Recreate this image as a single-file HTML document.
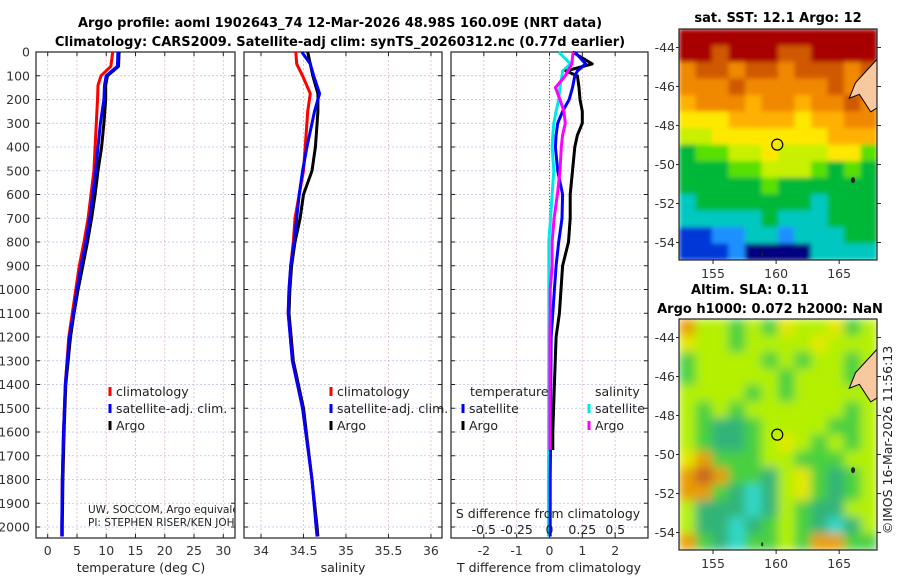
<!DOCTYPE html>
<html><head><meta charset="utf-8"><style>
body{margin:0;background:#fff;}
svg{display:block;font-family:"DejaVu Sans","Liberation Sans",sans-serif;}
</style></head><body>
<svg id="fig" width="900" height="580" viewBox="0 0 900 580" xmlns="http://www.w3.org/2000/svg">
<defs>
<filter id="blurS" x="0" y="0" width="1" height="1"><feGaussianBlur stdDeviation="2.5" edgeMode="duplicate"/></filter>
<filter id="blurL" x="0" y="0" width="1" height="1"><feGaussianBlur stdDeviation="5" edgeMode="duplicate"/></filter>
<clipPath id="mapclip1"><rect x="679" y="29" width="198" height="231"/></clipPath>
<clipPath id="mapclip2"><rect x="679" y="319" width="198" height="231"/></clipPath>
<clipPath id="c1"><rect x="36" y="52" width="199" height="486"/></clipPath>
</defs>
<text x="340" y="27" text-anchor="middle" font-size="13" font-weight="bold">Argo profile: aoml 1902643_74 12-Mar-2026 48.98S 160.09E (NRT data)</text>
<text x="340" y="46" text-anchor="middle" font-size="13" font-weight="bold">Climatology: CARS2009. Satellite-adj clim: synTS_20260312.nc (0.77d earlier)</text>
<g id="plots"></g>
<text x="778" y="22" text-anchor="middle" font-size="13" font-weight="bold">sat. SST: 12.1 Argo: 12</text>
<text x="750" y="294" text-anchor="middle" font-size="13" font-weight="bold">Altim. SLA: 0.11</text>
<text x="770" y="313" text-anchor="middle" font-size="13" font-weight="bold">Argo h1000: 0.072 h2000: NaN</text>
<text transform="translate(892,440) rotate(-90)" text-anchor="middle" font-size="12.5" fill="#222">©IMOS 16-Mar-2026 11:56:13</text>
</svg>
<script>
// ---------- profile data ----------
const tDepth    = [0,60,100,140,200,300,400,500,600,700,800,900,1000,1100,1200,1400,1600,1800,2000,2040];
const tArgo     = [12.2,12.1,10.2,9.9,9.9,9.6,9.2,8.6,8.1,7.5,6.8,6.0,5.2,4.5,3.9,3.1,2.8,2.6,2.5,2.5];
const tClim     = [11.1,10.8,9.1,8.6,8.5,8.3,8.1,7.9,7.4,6.9,6.2,5.4,4.8,4.2,3.6,3.0,2.7,2.5,2.4,2.4];
const tSat      = [12.0,11.9,10.0,9.7,9.6,9.0,8.6,8.2,7.7,7.2,6.5,5.7,5.0,4.4,3.7,3.0,2.7,2.5,2.4,2.4];
const sDepth    = [0,50,100,175,250,300,400,500,600,700,800,900,1000,1100,1300,1500,1800,2000,2040];
const sArgo     = [34.55,34.58,34.61,34.67,34.67,34.66,34.64,34.6,34.5,34.46,34.4,34.36,34.34,34.33,34.38,34.5,34.6,34.66,34.67];
const sClim     = [34.41,34.42,34.49,34.58,34.55,34.54,34.52,34.5,34.45,34.4,34.38,34.35,34.33,34.32,34.37,34.49,34.6,34.65,34.66];
const sSat      = [34.48,34.58,34.62,34.69,34.63,34.6,34.54,34.49,34.45,34.42,34.39,34.35,34.33,34.32,34.37,34.49,34.6,34.65,34.66];
const dDepth    = [0,50,80,100,150,200,250,300,350,400,500,600,700,800,900,1000,1100,1200,1400,1600,1676,1800,2000,2040];
const dTArgo    = [0.7,1.3,0.5,0.85,0.9,0.93,1.0,1.0,0.85,0.77,0.7,0.63,0.63,0.58,0.4,0.35,0.3,0.2,0.15,0.1,0.1,null,null,null];
const dTSat     = [0.77,1.1,0.85,0.77,0.7,0.6,0.4,0.25,0.2,0.18,0.25,0.4,0.38,0.28,0.2,0.15,0.1,0.05,0.04,0.03,0.03,0.02,0.02,0.02];
const dSSat     = [0.07,0.16,0.1,0.095,0.08,0.07,0.05,0.033,0.025,0.02,0.033,0.02,0.008,-0.005,-0.005,-0.005,-0.005,-0.005,-0.006,-0.007,-0.007,-0.008,-0.008,-0.008];
const dSArgo    = [0.18,0.17,0.14,0.12,0.045,0.08,0.11,0.12,0.1,0.09,0.08,0.06,0.035,0.02,0.02,0.005,0.005,0.003,0.003,0.003,0.003,null,null,null];
const depthTicks = [0,100,200,300,400,500,600,700,800,900,1000,1100,1200,1300,1400,1500,1600,1700,1800,1900,2000];
const p1Ticks = [0,5,10,15,20,25,30];
const p2Ticks = [34,34.5,35,35.5,36];
const p3Ticks = [-2,-1,0,1,2];
const p3STicks = [-0.5,-0.25,0,0.25,0.5];
// ---------- map data (colour-class grids) ----------
const sstRows = ["BBBBBBBBBBBB","BBABBBAABBBB","9AA9AA9AAA9A","999A99999A9A","8999899899A9","777888878899","667777777888","455667666775","444556665454","444445444444","344444443444","333334333444","112233233344","111200003333"];
const slaRows = ["oggGgGyggyGg","yggGggggyggg","GggggGgGggGg","GgggggGgggGg","ggggGgGggggg","gGgGggggggGg","gGDDGggggGGg","gGDDGgygGgGg","yoGGGggGGGgg","oroGGDgyGDGg","ooGDCDgyGDGg","gDDDCDgGDDgg","gDDCDGgGDCDg","oGDCGGgGooGG"];
const lonTicks = [155,160,165];
const latTicks = [-44,-46,-48,-50,-52,-54];
const floatLon = 160.09, floatLat = -48.98;

const NS="http://www.w3.org/2000/svg";
const root=document.getElementById('plots');
function mk(tag,attrs,parent){const e=document.createElementNS(NS,tag);for(const k in attrs)e.setAttribute(k,attrs[k]);(parent||root).appendChild(e);return e;}
const yTop=52,yBot=538,pxPerM=0.2375;
const yD=d=>yTop+d*pxPerM;
const panels=[{x0:36,x1:235,min:-2,max:32},{x0:244,x1:442,min:33.8,max:36.13},{x0:451,x1:648,min:-3,max:3}];
function xs(p){return v=>p.x0+(v-p.min)/(p.max-p.min)*(p.x1-p.x0);}
function line(p,vals,depths,color,name,scale){
  const X=xs(p);let d='';let pen=false;
  vals.forEach((v,i)=>{if(v===null){pen=false;return;}const vv=v*(scale||1);d+=(pen?'L':'M')+X(vv).toFixed(1)+' '+yD(depths[i]).toFixed(1);pen=true;});
  const el=mk('path',{d:d,fill:'none',stroke:color,'stroke-width':3,'stroke-linejoin':'round'});
  
  
}
panels.forEach((p,pi)=>{
  const g=mk('g',{});
  
  
  const X=xs(p);
  depthTicks.forEach(t=>{const y=yD(t);mk('line',{x1:p.x0,x2:p.x1,y1:y,y2:y,stroke:'#b8c0e8','stroke-width':0.8,'stroke-dasharray':'2 2'},g);
    mk('line',{x1:p.x0,x2:p.x0+4,y1:y,y2:y,stroke:'#222'},g);mk('line',{x1:p.x1,x2:p.x1-4,y1:y,y2:y,stroke:'#222'},g);
    if(pi===0){const tl=mk('text',{x:30,y:y+4.5,'text-anchor':'end','font-size':12.5,fill:'#333'},g);tl.textContent=t;
      
      }});
  const ticks=[p1Ticks,p2Ticks,p3Ticks][pi];
  ticks.forEach(t=>{const x=X(t);mk('line',{x1:x,x2:x,y1:yTop,y2:yBot,stroke:'#e0b8c8','stroke-width':0.8,'stroke-dasharray':'2 2'},g);
    mk('line',{x1:x,x2:x,y1:yBot,y2:yBot-4,stroke:'#222'},g);mk('line',{x1:x,x2:x,y1:yTop,y2:yTop+4,stroke:'#222'},g);
    const tl=mk('text',{x:x,y:555,'text-anchor':'middle','font-size':12.5,fill:'#333'},g);tl.textContent=t;
    
    });
  mk('rect',{x:p.x0,y:yTop,width:p.x1-p.x0,height:yBot-yTop,fill:'none',stroke:'#222','stroke-width':1.2},g);
});
line(panels[0],tArgo,tDepth,'#000','temp-argo-line');
line(panels[0],tClim,tDepth,'#f00','temp-climatology-line');
line(panels[0],tSat,tDepth,'#00f','temp-satellite-line');
line(panels[1],sArgo,sDepth,'#000','sal-argo-line');
line(panels[1],sClim,sDepth,'#f00','sal-climatology-line');
line(panels[1],sSat,sDepth,'#00f','sal-satellite-line');
{const x=xs(panels[2])(0);const z=mk('line',{x1:x,x2:x,y1:yTop,y2:yBot,stroke:'#556b2f','stroke-width':1,'stroke-dasharray':'1 2'});

}
line(panels[2],dSSat,dDepth,'#00e8e8','sdiff-satellite-line',4);
line(panels[2],dTArgo,dDepth,'#000','tdiff-argo-line');
line(panels[2],dTSat,dDepth,'#00f','tdiff-satellite-line');
line(panels[2],dSArgo,dDepth,'#f0f','sdiff-argo-line',4);
p3STicks.forEach(t=>{const tl=mk('text',{x:xs(panels[2])(t*4),y:534,'text-anchor':'middle','font-size':12.5,fill:'#222'});tl.textContent=t;
  
  });
function txt(x,y,s,name,opts){const t=mk('text',Object.assign({x:x,y:y,'font-size':12.5,fill:'#222'},opts||{}));t.textContent=s;
  
  return t;}
txt(548,518,'S difference from climatology','s-diff-axis-title',{'text-anchor':'middle'});
txt(141,572,'temperature (deg C)','temp-axis-title',{'text-anchor':'middle'});
txt(343,572,'salinity','salinity-axis-title',{'text-anchor':'middle'});
txt(549,572,'T difference from climatology','t-diff-axis-title',{'text-anchor':'middle'});
txt(88,513,'UW, SOCCOM, Argo equivalent','data-source-note',{'font-size':10.5,'clip-path':'url(#c1)'});
txt(88,526,'PI: STEPHEN RISER/KEN JOHNSON','pi-note',{'font-size':10.5,'clip-path':'url(#c1)'});
function leg(x,y,color,label,name){mk('line',{x1:x,x2:x,y1:y-9,y2:y,stroke:color,'stroke-width':3});txt(x+6,y,label,name);}
[[110,'#f00','climatology'],[110,'#00f','satellite-adj. clim.'],[110,'#000','Argo']].forEach((l,i)=>leg(l[0],396+i*17,l[1],l[2],'legend-temp-'+i));
[[331,'#f00','climatology'],[331,'#00f','satellite-adj. clim.'],[331,'#000','Argo']].forEach((l,i)=>leg(l[0],396+i*17,l[1],l[2],'legend-sal-'+i));
txt(470,396,'temperature','legend-temperature-header');
leg(463,413,'#00f','satellite','legend-tdiff-satellite');leg(463,430,'#000','Argo','legend-tdiff-argo');
txt(595,396,'salinity','legend-salinity-header');
leg(589,413,'#00e8e8','satellite','legend-sdiff-satellite');leg(589,430,'#f0f','Argo','legend-sdiff-argo');

// ---------- maps ----------
const sstCol={'0':'#000080','1':'#0038d8','2':'#1e90ff','3':'#00c8c0','4':'#00b838','5':'#58e000','6':'#c8f000','7':'#ffe800','8':'#ffb000','9':'#f08800','A':'#d05800','B':'#a80000'};
const slaCol={g:'#b4f000',y:'#e4e800',o:'#e89c00',r:'#c86020',G:'#48d040',D:'#30b478',C:'#30d8c8'};
function drawMap(y0,rows,cols,name,clip,filt){
  const x0=679,x1=877,y1=y0+231;
  const lonMin=152.3,lonMax=168.0,latTop=-43.05,pxLat=19.5;
  const X=lon=>x0+(lon-lonMin)/(lonMax-lonMin)*(x1-x0);
  const Y=lat=>y0+(latTop-lat)*pxLat;
  const g=mk('g',{});
  
  
  const cg=mk('g',{'clip-path':'url(#'+clip+')'},g);
  const hg=mk('g',{filter:'url(#'+filt+')'},cg);
  const nr=rows.length,nc=rows[0].length,cw=(x1-x0)/nc,ch=(y1-y0)/nr;
  rows.forEach((r,i)=>{[...r].forEach((c,j)=>{const cell=mk('rect',{x:x0+j*cw,y:y0+i*ch,width:cw+0.5,height:ch+0.5,fill:cols[c]},hg);
    
    });});
  const land=mk('path',{d:`M${x1} ${Y(-44.6)} L${X(166.3)} ${Y(-45.8)} L${X(165.8)} ${Y(-46.6)} L${X(166.6)} ${Y(-46.4)} L${X(167.2)} ${Y(-47.0)} L${X(167.5)} ${Y(-47.3)} L${x1} ${Y(-47.1)} Z`,fill:'#f8c8a0',stroke:'#000','stroke-width':1},g);
  
  
  mk('ellipse',{cx:X(166.1),cy:Y(-50.8),rx:2,ry:3,fill:'#222'},g);
  mk('ellipse',{cx:X(158.9),cy:Y(-54.6),rx:1,ry:2,fill:'#222'},g);
  const fc=mk('circle',{cx:X(floatLon),cy:Y(floatLat),r:5.5,fill:'none',stroke:'#000','stroke-width':1.2},g);
  
  
  mk('rect',{x:x0,y:y0,width:x1-x0,height:y1-y0,fill:'none',stroke:'#222','stroke-width':1.2},g);
  lonTicks.forEach(t=>{const x=X(t);mk('line',{x1:x,x2:x,y1:y1,y2:y1+4,stroke:'#222'},g);
    const tl=mk('text',{x:x,y:y1+18,'text-anchor':'middle','font-size':12.5,fill:'#333'},g);tl.textContent=t;
    
    });
  latTicks.forEach(t=>{const y=Y(t);mk('line',{x1:x1,x2:x1+4,y1:y,y2:y,stroke:'#222'},g);mk('line',{x1:x0,x2:x0-3,y1:y,y2:y,stroke:'#222'},g);
    const tl=mk('text',{x:x0-4,y:y+4.5,'text-anchor':'end','font-size':12.5,fill:'#333'},g);tl.textContent=t;
    
    });
}
drawMap(29,sstRows,sstCol,'sst-map','mapclip1','blurS');
drawMap(319,slaRows,slaCol,'sla-map','mapclip2','blurL');
</script>
</body></html>
